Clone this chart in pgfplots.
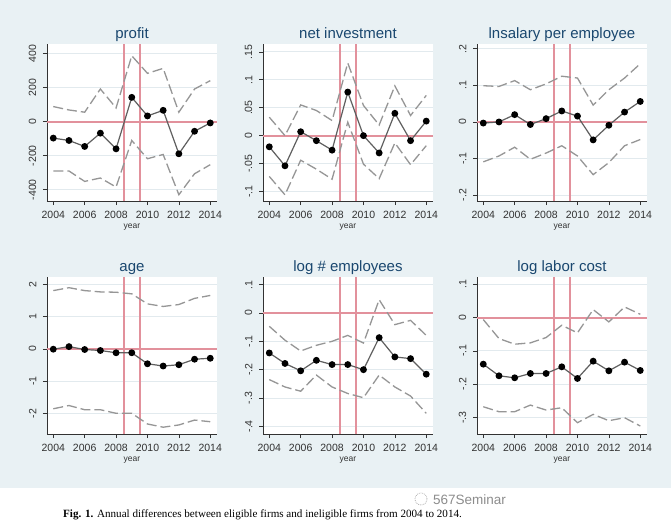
\documentclass[border=0pt]{standalone}
\usepackage{pgfplots}
\usepackage{pgfplotstable}
\pgfplotsset{compat=1.18}
\usepackage{fontspec}
\setmainfont{Liberation Sans}
\newfontfamily\capfont{Liberation Serif}
\definecolor{bgc}{RGB}{233,241,244}
\definecolor{gridc}{RGB}{226,234,238}
\definecolor{redc}{RGB}{226,145,156}
\definecolor{titlec}{RGB}{26,71,111}
\definecolor{meanc}{RGB}{95,95,95}
\definecolor{cic}{RGB}{150,150,150}
\definecolor{axc}{RGB}{50,50,50}

\pgfplotstableread{
year mean lo hi
2004 -97 -290 88
2005 -111 -290 68
2006 -146 -351 55
2007 -68 -331 191
2008 -160 -384 80
2009 142 -111 386
2010 33 -218 283
2011 66 -193 312
2012 -189 -429 55
2013 -57 -306 191
2014 -8 -253 240
}\profittab

\pgfplotstableread{
year mean lo hi
2004 -0.020 -0.073 0.033
2005 -0.054 -0.106 0.000
2006 0.007 -0.044 0.055
2007 -0.009 -0.060 0.045
2008 -0.026 -0.078 0.027
2009 0.078 0.024 0.130
2010 0.000 -0.051 0.054
2011 -0.031 -0.077 0.019
2012 0.040 -0.013 0.089
2013 -0.009 -0.052 0.036
2014 0.026 -0.018 0.072
}\netinvtab

\pgfplotstableread{
year mean lo hi
2004 -0.003 -0.109 0.099
2005 0.000 -0.093 0.097
2006 0.020 -0.069 0.113
2007 -0.007 -0.102 0.088
2008 0.009 -0.085 0.104
2009 0.030 -0.065 0.125
2010 0.016 -0.093 0.120
2011 -0.049 -0.144 0.046
2012 -0.009 -0.111 0.088
2013 0.027 -0.065 0.120
2014 0.056 -0.048 0.159
}\salarytab

\pgfplotstableread{
year mean lo hi
2004 -0.01 -1.85 1.80
2005 0.07 -1.75 1.89
2006 -0.02 -1.88 1.80
2007 -0.05 -1.88 1.76
2008 -0.12 -1.99 1.75
2009 -0.12 -1.99 1.70
2010 -0.46 -2.32 1.39
2011 -0.53 -2.42 1.31
2012 -0.49 -2.35 1.37
2013 -0.32 -2.20 1.56
2014 -0.29 -2.25 1.65
}\agetab

\pgfplotstableread{
year mean lo hi
2004 -0.141 -0.235 -0.047
2005 -0.178 -0.261 -0.096
2006 -0.204 -0.276 -0.134
2007 -0.167 -0.219 -0.114
2008 -0.182 -0.261 -0.100
2009 -0.182 -0.284 -0.079
2010 -0.200 -0.299 -0.106
2011 -0.087 -0.219 0.047
2012 -0.155 -0.261 -0.041
2013 -0.161 -0.293 -0.026
2014 -0.216 -0.354 -0.079
}\emptab

\pgfplotstableread{
year mean lo hi
2004 -0.140 -0.268 -0.006
2005 -0.175 -0.283 -0.063
2006 -0.181 -0.283 -0.080
2007 -0.168 -0.263 -0.076
2008 -0.168 -0.278 -0.060
2009 -0.148 -0.271 -0.023
2010 -0.183 -0.316 -0.046
2011 -0.131 -0.291 0.024
2012 -0.160 -0.310 -0.013
2013 -0.134 -0.301 0.032
2014 -0.159 -0.326 0.010
}\labortab

\pgfplotsset{
  stata/.style={
    scale only axis, width=170pt, height=157pt, anchor=north west,
    axis background/.style={fill=white},
    axis x line*=bottom, axis y line*=left,
    axis line style={color=axc, line width=0.6pt},
    xmin=2003.6, xmax=2014.43,
    xtick={2004,2006,2008,2010,2012,2014},
    xticklabels={2004,2006,2008,2010,2012,2014},
    tick align=outside, major tick length=4pt,
    tick style={color=axc, line width=0.6pt},
    ymajorgrids, grid style={color=gridc, line width=0.8pt},
    extra x ticks={2008.5,2009.5}, extra x tick labels={},
    extra x tick style={grid=major, major grid style={color=redc, line width=2pt}, major tick length=0pt},
    extra y ticks={0}, extra y tick labels={},
    extra y tick style={grid=major, major grid style={color=redc, line width=2pt}, major tick length=0pt},
    ticklabel style={font=\fontsize{10.5}{11}\selectfont, text=axc},
    x tick label style={inner sep=0pt, anchor=north, yshift=-6pt},
    y tick label style={xshift=-6.5pt, rotate=90, anchor=south, inner sep=0pt},
    xlabel={year}, xlabel style={font=\fontsize{8.5}{9}\selectfont, text=axc, inner sep=0pt, anchor=center, at={(0.5,0)}, yshift=-26pt},
    title style={font=\fontsize{15}{16}\selectfont, text=titlec, inner sep=0pt, anchor=base, at={(0.5,1)}, yshift=-0.5pt},
  },
  ciline/.style={color=cic, line width=1.3pt, dash pattern=on 10pt off 4pt, no marks},
  meanline/.style={color=meanc, line width=1.2pt, mark=*, mark size=2.8pt, mark options={fill=black, draw=black, solid}},
}

\newcommand{\panel}[1]{%
  \addplot[ciline] table[x=year,y=hi] {#1};
  \addplot[ciline] table[x=year,y=lo] {#1};
  \addplot[meanline] table[x=year,y=mean] {#1};
}

\begin{document}
\begin{tikzpicture}
\path[use as bounding box] (0,0) rectangle (671pt,-528pt);
\fill[bgc] (0,0) rectangle (671pt,-488pt);

\begin{axis}[stata, at={(47pt,-44pt)}, title={profit},
  ymin=-466, ymax=455, ytick={-400,-200,0,200,400},
  yticklabels={-400,-200,0,200,400}]
\panel{\profittab}
\end{axis}

\begin{axis}[stata, at={(263pt,-44pt)}, title={net investment},
  ymin=-0.117, ymax=0.164, ytick={-0.1,-0.05,0,0.05,0.1,0.15},
  yticklabels={-.1,-.05,0,.05,.1,.15}]
\panel{\netinvtab}
\end{axis}

\begin{axis}[stata, at={(477pt,-44pt)}, title={lnsalary per employee},
  ymin=-0.216, ymax=0.213, ytick={-0.2,-0.1,0,0.1,0.2},
  yticklabels={-.2,-.1,0,.1,.2}]
\panel{\salarytab}
\end{axis}

\begin{axis}[stata, at={(47pt,-277pt)}, title={age},
  ymin=-2.63, ymax=2.22, ytick={-2,-1,0,1,2},
  yticklabels={-2,-1,0,1,2}]
\panel{\agetab}
\end{axis}

\begin{axis}[stata, at={(263pt,-277pt)}, title={log \# employees},
  ymin=-0.427, ymax=0.127, ytick={-0.4,-0.3,-0.2,-0.1,0,0.1},
  yticklabels={-.4,-.3,-.2,-.1,0,.1}]
\panel{\emptab}
\end{axis}

\begin{axis}[stata, at={(477pt,-277pt)}, title={log labor cost},
  ymin=-0.35, ymax=0.122, ytick={-0.3,-0.2,-0.1,0,0.1},
  yticklabels={-.3,-.2,-.1,0,.1}]
\panel{\labortab}
\end{axis}

\node[anchor=west, inner sep=0pt, text=black!45, font=\fontsize{13.5}{14}\selectfont] at (433pt,-500pt) {567Seminar};
\draw[black!30, densely dotted, line width=0.8pt] (421pt,-499pt) circle (6pt);
\node[anchor=west, inner sep=0pt, font=\capfont\fontsize{11.1}{12}\selectfont] at (63pt,-515pt)
  {\textbf{Fig. 1.} Annual differences between eligible firms and ineligible firms from 2004 to 2014.};
\end{tikzpicture}
\end{document}
